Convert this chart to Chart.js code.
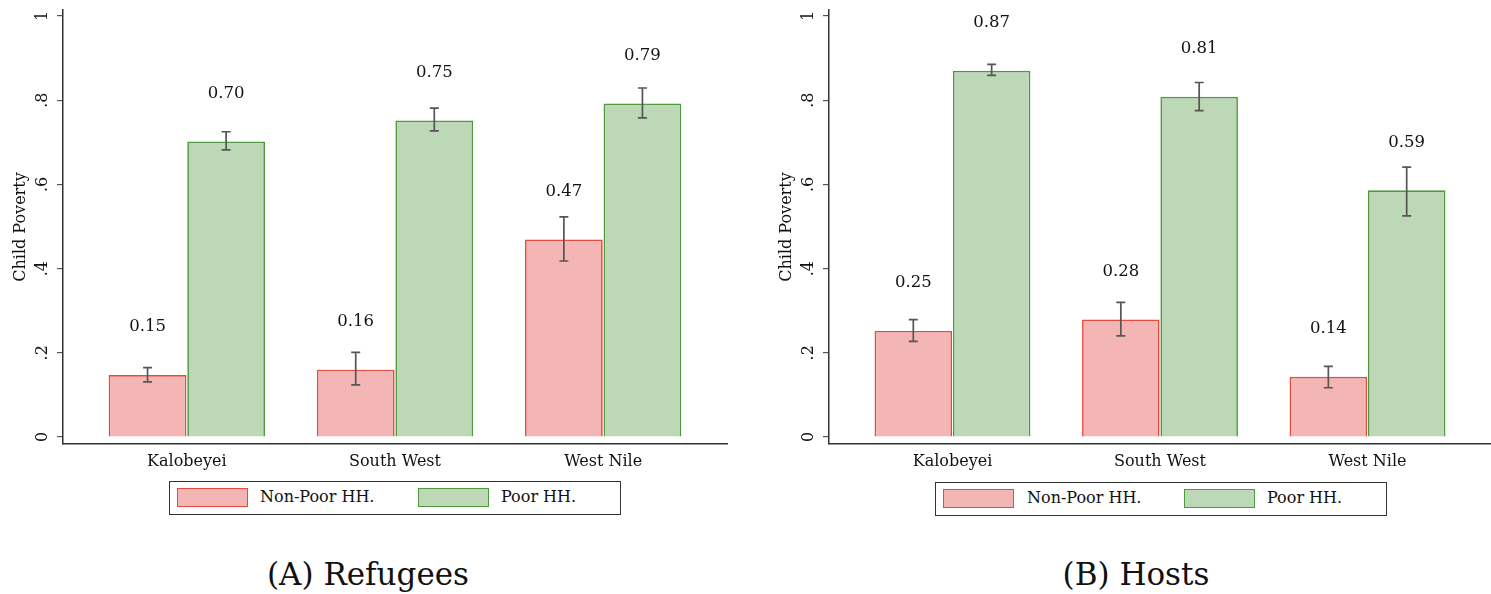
<!DOCTYPE html>
<html>
<head>
<meta charset="utf-8">
<script src="https://cdn.jsdelivr.net/npm/chart.js@4.4.1/dist/chart.umd.min.js"></script>
<style>
  html, body { margin: 0; padding: 0; background: #fff; }
  body { width: 1491px; height: 594px; position: relative; overflow: hidden; font-family: "DejaVu Serif", serif; }
  .wrap { position: absolute; top: 0; }
  .legend { position: absolute; height: 32px; border: 1.5px solid #333; box-sizing: border-box; background: #fff; }
  .sw { position: absolute; top: 6px; width: 71px; height: 19px; box-sizing: border-box; border: 1.5px solid; }
  .lt { position: absolute; top: 5px; font-size: 16px; color: #111; line-height: 20px; white-space: nowrap; }
  .cap { position: absolute; font-size: 31px; color: #111; white-space: nowrap; transform: translate(-50%, -50%); }
</style>
</head>
<body>
<div class="wrap" style="left:0;width:745px;height:480px;"><canvas id="cA"></canvas></div>
<div class="wrap" style="left:766px;width:725px;height:480px;"><canvas id="cB"></canvas></div>

<div class="legend" style="left:169px;top:481px;width:452px;height:34px;">
  <div class="sw" style="left:7px;background:rgb(244,182,181);border-color:#e8493f;"></div>
  <div class="lt" style="left:90px;">Non-Poor HH.</div>
  <div class="sw" style="left:248px;background:rgb(189,216,183);border-color:#4f9a41;"></div>
  <div class="lt" style="left:331px;">Poor HH.</div>
</div>
<div class="legend" style="left:935px;top:482px;width:452px;height:34px;">
  <div class="sw" style="left:7px;background:rgb(244,182,181);border-color:#e8493f;"></div>
  <div class="lt" style="left:91px;">Non-Poor HH.</div>
  <div class="sw" style="left:248px;background:rgb(189,216,183);border-color:#4f9a41;"></div>
  <div class="lt" style="left:331px;">Poor HH.</div>
</div>

<div class="cap" style="left:368px;top:574px;">(A) Refugees</div>
<div class="cap" style="left:1136px;top:574px;">(B) Hosts</div>

<script>
// ---- data ----
const categories = ["Kalobeyei", "South West", "West Nile"];
const seriesNames = ["Non-Poor HH.", "Poor HH."];
const yTickValues = [0, 0.2, 0.4, 0.6, 0.8, 1];
const yTickLabels = ["0", ".2", ".4", ".6", ".8", "1"];

// Refugees
const refNonPoor = [0.147, 0.160, 0.469];
const refNonPoorLo = [0.131, 0.124, 0.418];
const refNonPoorHi = [0.165, 0.201, 0.523];
const refPoor = [0.702, 0.752, 0.792];
const refPoorLo = [0.682, 0.727, 0.758];
const refPoorHi = [0.725, 0.781, 0.829];

// Hosts
const hostNonPoor = [0.252, 0.279, 0.143];
const hostNonPoorLo = [0.227, 0.240, 0.117];
const hostNonPoorHi = [0.279, 0.320, 0.168];
const hostPoor = [0.870, 0.808, 0.586];
const hostPoorLo = [0.859, 0.775, 0.525];
const hostPoorHi = [0.885, 0.842, 0.641];

const FILL = ["rgb(244,182,181)", "rgb(189,216,183)"];
const EDGE = ["#e8493f", "#4f9a41"];
const FONT = "'DejaVu Serif', serif";

const overlay = {
  id: "overlay",
  afterDatasetsDraw(chart) {
    const ctx = chart.ctx;
    const ys = chart.scales.y;
    const ca = chart.chartArea;
    chart.data.datasets.forEach((ds, di) => {
      const meta = chart.getDatasetMeta(di);
      meta.data.forEach((bar, j) => {
        const lo = ys.getPixelForValue(ds.lo[j]);
        const hi = ys.getPixelForValue(ds.hi[j]);
        ctx.save();
        ctx.strokeStyle = "#555";
        ctx.lineWidth = 1.7;
        ctx.beginPath();
        ctx.moveTo(bar.x, lo); ctx.lineTo(bar.x, hi);
        ctx.moveTo(bar.x - 4.5, lo); ctx.lineTo(bar.x + 4.5, lo);
        ctx.moveTo(bar.x - 4.5, hi); ctx.lineTo(bar.x + 4.5, hi);
        ctx.stroke();
        ctx.fillStyle = "#111";
        ctx.font = "16.5px " + FONT;
        ctx.textAlign = "center";
        ctx.textBaseline = "middle";
        ctx.fillText(ds.data[j].y.toFixed(2), bar.x, bar.y - 48);
        ctx.restore();
      });
    });
    ctx.save();
    ctx.fillStyle = "#111";
    ctx.font = "16px " + FONT;
    ctx.textAlign = "center";
    ctx.textBaseline = "middle";
    yTickValues.forEach((v, i) => {
      const py = ys.getPixelForValue(v);
      ctx.save();
      ctx.translate(ca.left - 20, py);
      ctx.rotate(-Math.PI / 2);
      ctx.fillText(yTickLabels[i], 0, 0);
      ctx.restore();
    });
    ctx.save();
    ctx.translate(ca.left - 42, (ca.top + ca.bottom) / 2);
    ctx.rotate(-Math.PI / 2);
    ctx.fillText("Child Poverty", 0, 0);
    ctx.restore();
    ctx.restore();
  }
};

function makeChart(id, np, npLo, npHi, p, pLo, pHi, padRight) {
  const mk = (arr) => arr.map((v, i) => ({ x: i, y: v }));
  return new Chart(document.getElementById(id), {
    type: "bar",
    data: {
      datasets: [
        { label: seriesNames[0], data: mk(np), lo: npLo, hi: npHi,
          backgroundColor: FILL[0], borderColor: EDGE[0], borderWidth: 1.7,
          barPercentage: 0.99, categoryPercentage: 0.755 },
        { label: seriesNames[1], data: mk(p), lo: pLo, hi: pHi,
          backgroundColor: FILL[1], borderColor: EDGE[1], borderWidth: 1.7,
          barPercentage: 0.99, categoryPercentage: 0.755 }
      ]
    },
    options: {
      responsive: true,
      maintainAspectRatio: false,
      animation: false,
      layout: { padding: { top: 10, right: padRight, left: 0, bottom: 0 } },
      plugins: { legend: { display: false }, tooltip: { enabled: false } },
      scales: {
        x: {
          type: "linear",
          offset: false,
          min: -0.595, max: 2.595,
          afterBuildTicks: (s) => { s.ticks = categories.map((c, i) => ({ value: i })); },
          ticks: { callback: (v) => categories[v], color: "#111", font: { family: FONT, size: 16 }, padding: 8, autoSkip: false, maxRotation: 0 },
          grid: { display: false, drawTicks: false, offset: false },
          border: { display: true, color: "#333", width: 1.5 },
          afterFit: (s) => { s.height = 36; }
        },
        y: {
          min: -0.0166, max: 1.0142,
          afterBuildTicks: (s) => { s.ticks = yTickValues.map(v => ({ value: v })); },
          ticks: { display: false },
          grid: { display: true, drawOnChartArea: false, drawTicks: true, tickLength: 6, color: "#555", lineWidth: 1.2 },
          border: { display: true, color: "#333", width: 1.5 },
          afterFit: (s) => { s.width = 63; }
        }
      }
    },
    plugins: [overlay]
  });
}

makeChart("cA", refNonPoor, refNonPoorLo, refNonPoorHi, refPoor, refPoorLo, refPoorHi, 18);
makeChart("cB", hostNonPoor, hostNonPoorLo, hostNonPoorHi, hostPoor, hostPoorLo, hostPoorHi, 0);
</script>
</body>
</html>
